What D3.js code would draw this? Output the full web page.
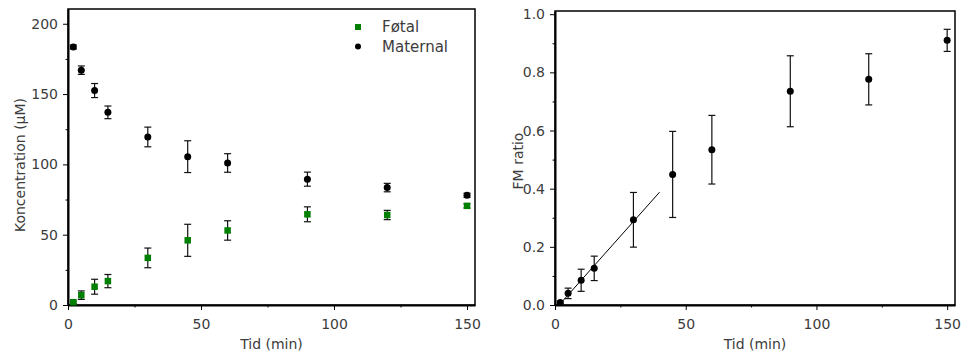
<!DOCTYPE html>
<html>
<head>
<meta charset="utf-8">
<script src="https://cdn.jsdelivr.net/npm/d3@7"></script>
<style>
  body { margin: 0; background: #fff; }
  text { font-family: "DejaVu Sans", sans-serif; fill: #3c3c3c; }
  .tick line { stroke: #000; }
</style>
</head>
<body>
<div id="chart"></div>
<script>
// chart size
const width = 963;
const height = 355;

// data
const timeMin = [2, 5, 10, 15, 30, 45, 60, 90, 120, 150];
const maternal = [183.5, 167, 152.5, 137, 119.5, 105.5, 101, 89.5, 83.5, 78];
const maternalErr = [1.4, 3, 5, 4.5, 7, 11.3, 6.6, 5, 3, 1.5];
const fetal = [2, 7, 13, 17, 33.5, 46, 53, 64.5, 64, 70.5];
const fetalErr = [0.8, 3, 5.3, 4.7, 7, 11.4, 6.9, 5.3, 3.3, 1.5];
const fmRatio = [0.009, 0.04, 0.085, 0.126, 0.293, 0.449, 0.534, 0.735, 0.776, 0.91];
const fmErr = [0.004, 0.018, 0.038, 0.042, 0.094, 0.148, 0.118, 0.122, 0.088, 0.038];

// linear fit on the early points (right panel)
const fitSlope = 0.0101;
const fitIntercept = -0.016;
const fitTime = [1.6, 40];

// tick values
const xMajor = [0, 50, 100, 150];
const xMinor = [25, 75, 125];
const yLeftMajor = [0, 50, 100, 150, 200];
const yLeftMinor = [25, 75, 125, 175];
const yRightMajor = [0, 0.2, 0.4, 0.6, 0.8, 1.0];
const yRightMinor = [0.1, 0.3, 0.5, 0.7, 0.9];

const legendNames = ["Føtal", "Maternal"];

const svg = d3.select("#chart")
  .append("svg")
  .attr("width", width)
  .attr("height", height);

// scales
const xL = d3.scaleLinear().domain([0, 153]).range([68, 475]);
const yL = d3.scaleLinear().domain([0, 210.5]).range([305, 9]);
const xR = d3.scaleLinear().domain([0, 153]).range([555, 955]);
const yR = d3.scaleLinear().domain([0, 1.011]).range([305, 11]);

// draws frame + axes for one panel
function drawAxes(x, y, yMajor, yMinor, yFmt, xTitle, yTitle, yTitleX, yTitleShift) {
  const [x0, x1] = x.range();
  const [y0, y1] = y.range();

  // frame
  svg.append("rect")
    .attr("x", x0).attr("y", y1)
    .attr("width", x1 - x0).attr("height", y0 - y1)
    .attr("fill", "none")
    .attr("stroke", "#000")
    .attr("stroke-width", 1.5);

  // minor ticks
  svg.append("g")
    .attr("transform", `translate(0,${y0})`)
    .call(d3.axisBottom(x).tickValues(xMinor).tickSize(2.5).tickSizeOuter(0).tickFormat(""))
    .call(g => g.select(".domain").remove());
  svg.append("g")
    .attr("transform", `translate(${x0},0)`)
    .call(d3.axisLeft(y).tickValues(yMinor).tickSize(2.5).tickSizeOuter(0).tickFormat(""))
    .call(g => g.select(".domain").remove());

  // major ticks
  svg.append("g")
    .attr("transform", `translate(0,${y0})`)
    .call(d3.axisBottom(x).tickValues(xMajor).tickSize(5).tickPadding(9).tickSizeOuter(0))
    .call(g => g.select(".domain").attr("stroke-width", 2))
    .call(g => g.selectAll("text").attr("font-size", 14).style("font-family", "DejaVu Sans").attr("fill", "#3c3c3c"));
  svg.append("g")
    .attr("transform", `translate(${x0},0)`)
    .call(d3.axisLeft(y).tickValues(yMajor).tickSize(5).tickPadding(5).tickSizeOuter(0).tickFormat(yFmt))
    .call(g => g.select(".domain").attr("stroke-width", 2))
    .call(g => g.selectAll("text").attr("font-size", 14).style("font-family", "DejaVu Sans").attr("fill", "#3c3c3c"));

  // titles
  svg.append("text")
    .attr("x", (x0 + x1) / 2)
    .attr("y", 349)
    .attr("text-anchor", "middle")
    .attr("font-size", 14)
    .text(xTitle);
  svg.append("text")
    .attr("transform", `translate(${yTitleX},${(y0 + y1) / 2 + yTitleShift}) rotate(-90)`)
    .attr("text-anchor", "middle")
    .attr("dy", "0.35em")
    .attr("font-size", 14)
    .text(yTitle);
}

// error bars with caps
function errorBars(x, y, vals, errs) {
  const g = svg.append("g").attr("stroke", "#111").attr("stroke-width", 1.2);
  const cap = 3.5;
  timeMin.forEach((t, i) => {
    const cx = x(t), top = y(vals[i] + errs[i]), bot = y(vals[i] - errs[i]);
    g.append("line").attr("x1", cx).attr("x2", cx).attr("y1", top).attr("y2", bot);
    g.append("line").attr("x1", cx - cap).attr("x2", cx + cap).attr("y1", top).attr("y2", top);
    g.append("line").attr("x1", cx - cap).attr("x2", cx + cap).attr("y1", bot).attr("y2", bot);
  });
}

/* Left panel */
drawAxes(xL, yL, yLeftMajor, yLeftMinor, d3.format("d"), "Tid (min)", "Koncentration (µM)", 20, 8);

errorBars(xL, yL, maternal, maternalErr);
errorBars(xL, yL, fetal, fetalErr);

svg.append("g").selectAll("circle")
  .data(timeMin)
  .enter()
  .append("circle")
    .attr("cx", d => xL(d))
    .attr("cy", (d, i) => yL(maternal[i]))
    .attr("r", 3.5)
    .attr("fill", "#000");

svg.append("g").selectAll("rect")
  .data(timeMin)
  .enter()
  .append("rect")
    .attr("x", d => xL(d) - 3.25)
    .attr("y", (d, i) => yL(fetal[i]) - 3.25)
    .attr("width", 6.5)
    .attr("height", 6.5)
    .attr("fill", "#008000");

// legend
const legend = svg.append("g").attr("transform", "translate(358,27)");
legend.append("rect").attr("x", -3).attr("y", -3).attr("width", 6).attr("height", 6).attr("fill", "#008000");
legend.append("circle").attr("cx", 0).attr("cy", 19.5).attr("r", 3).attr("fill", "#000");
legend.selectAll("text")
  .data(legendNames)
  .enter()
  .append("text")
    .attr("x", 24)
    .attr("y", (d, i) => i * 19.5)
    .attr("dy", "0.35em")
    .attr("font-size", 15)
    .text(d => d);

/* Right panel */
drawAxes(xR, yR, yRightMajor, yRightMinor, d3.format(".1f"), "Tid (min)", "FM ratio", 518, 3);

svg.append("line")
  .attr("x1", xR(fitTime[0]))
  .attr("y1", yR(fitSlope * fitTime[0] + fitIntercept))
  .attr("x2", xR(fitTime[1]))
  .attr("y2", yR(fitSlope * fitTime[1] + fitIntercept))
  .attr("stroke", "#000")
  .attr("stroke-width", 1);

errorBars(xR, yR, fmRatio, fmErr);

svg.append("g").selectAll("circle")
  .data(timeMin)
  .enter()
  .append("circle")
    .attr("cx", d => xR(d))
    .attr("cy", (d, i) => yR(fmRatio[i]))
    .attr("r", 3.5)
    .attr("fill", "#000");
</script>
</body>
</html>
